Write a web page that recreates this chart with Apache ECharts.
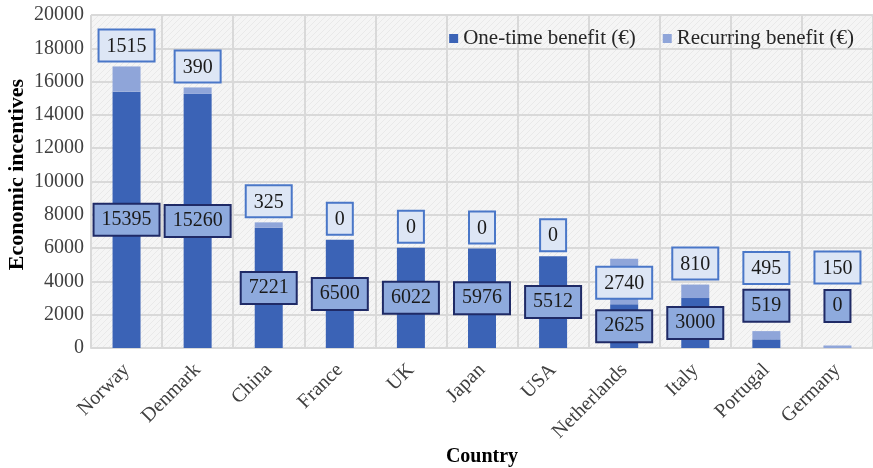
<!DOCTYPE html>
<html>
<head>
<meta charset="utf-8">
<title>Economic incentives by country</title>
<script src="https://cdn.jsdelivr.net/npm/echarts@6/dist/echarts.min.js"></script>
<style>
  html, body { margin: 0; padding: 0; background: #ffffff; }
  #chart { width: 873px; height: 468px; }
</style>
</head>
<body>
<div id="chart"></div>
<script>
// Countries along the x axis
const countries = ['Norway', 'Denmark', 'China', 'France', 'UK', 'Japan', 'USA', 'Netherlands', 'Italy', 'Portugal', 'Germany'];
// One-time purchase benefit per country (€)
const oneTimeBenefit = [15395, 15260, 7221, 6500, 6022, 5976, 5512, 2625, 3000, 519, 0];
// Recurring benefit per country (€)
const recurringBenefit = [1515, 390, 325, 0, 0, 0, 0, 2740, 810, 495, 150];
// Value-axis tick range
const yMin = 0, yMax = 20000, yStep = 2000;

// Hand-placed label nudges (pixels, vertical) to keep boxes clear of each other
const oneTimeLabelShift = { Portugal: -38, Germany: -42 };
const recurringLabelShift = { Netherlands: 45, Portugal: -42, Germany: -57 };

const FONT = '"Liberation Serif", "Times New Roman", serif';

// Light diagonal hatch for the plot background
function hatchPattern() {
  const c = document.createElement('canvas');
  c.width = 6; c.height = 6;
  const g = c.getContext('2d');
  g.fillStyle = '#f5f5f5';
  g.fillRect(0, 0, 6, 6);
  g.strokeStyle = '#e9e9e9';
  g.lineWidth = 1;
  g.beginPath();
  g.moveTo(0, 6); g.lineTo(6, 0);
  g.moveTo(-1, 1); g.lineTo(1, -1);
  g.moveTo(5, 7); g.lineTo(7, 5);
  g.stroke();
  return c;
}

function withShift(values, shifts) {
  return values.map((v, i) => {
    const dy = shifts[countries[i]];
    return dy ? { value: v, label: { offset: [0, dy] } } : v;
  });
}

const chart = echarts.init(document.getElementById('chart'), null, { renderer: 'canvas' });

chart.setOption({
  backgroundColor: '#ffffff',
  animation: false,
  textStyle: { fontFamily: FONT },
  grid: {
    left: 91, top: 15, width: 782, height: 333,
    outerBoundsMode: 'none',
    containLabel: false,
    show: true,
    backgroundColor: { image: hatchPattern(), repeat: 'repeat' },
    borderWidth: 0
  },
  legend: {
    right: 14, top: 23,
    itemWidth: 9, itemHeight: 9, itemGap: 27,
    icon: 'rect',
    textStyle: { fontFamily: FONT, fontSize: 21, color: '#262626' },
    data: ['One-time benefit (€)', 'Recurring benefit (€)']
  },
  xAxis: {
    type: 'category',
    data: countries,
    name: 'Country',
    nameLocation: 'middle',
    nameGap: 99,
    nameMoveOverlap: false,
    nameTextStyle: { fontFamily: FONT, fontSize: 20, fontWeight: 'bold', color: '#000' },
    axisLine: { show: true, lineStyle: { color: '#d9d9d9', width: 2 } },
    axisTick: { show: false },
    splitLine: { show: true, lineStyle: { color: '#d9d9d9', width: 2 } },
    axisLabel: {
      rotate: 45, margin: 19, interval: 0,
      fontFamily: FONT, fontSize: 20, color: '#404040'
    }
  },
  yAxis: {
    type: 'value',
    min: yMin, max: yMax, interval: yStep,
    name: 'Economic incentives',
    nameLocation: 'middle',
    nameGap: 63,
    nameMoveOverlap: false,
    nameTextStyle: {
      fontFamily: FONT, fontSize: 22, fontWeight: 'bold', color: '#000',
      padding: [0, 0, 0, 14]
    },
    axisLine: { show: false },
    axisTick: { show: false },
    splitLine: { show: true, lineStyle: { color: '#d9d9d9', width: 2 } },
    axisLabel: {
      fontFamily: FONT, fontSize: 20, color: '#404040', margin: 7,
      formatter: v => String(v)
    }
  },
  series: [
    {
      name: 'One-time benefit (€)',
      type: 'bar',
      stack: 'benefit',
      barWidth: 28,
      itemStyle: { color: '#3b63b6' },
      data: withShift(oneTimeBenefit, oneTimeLabelShift),
      label: {
        show: true,
        position: 'inside',
        fontFamily: FONT, fontSize: 20, color: '#1a1a1a',
        backgroundColor: '#8eaadd',
        borderColor: '#1f2a66', borderWidth: 2,
        padding: [6, 7, 4, 7]
      }
    },
    {
      name: 'Recurring benefit (€)',
      type: 'bar',
      stack: 'benefit',
      barWidth: 28,
      itemStyle: { color: '#8fa5d9' },
      data: withShift(recurringBenefit, recurringLabelShift),
      label: {
        show: true,
        position: 'top',
        distance: 6,
        fontFamily: FONT, fontSize: 20, color: '#1a1a1a',
        backgroundColor: '#dde6f5',
        borderColor: '#4a77c8', borderWidth: 2,
        padding: [6, 7, 4, 7]
      }
    }
  ]
});
</script>
</body>
</html>
